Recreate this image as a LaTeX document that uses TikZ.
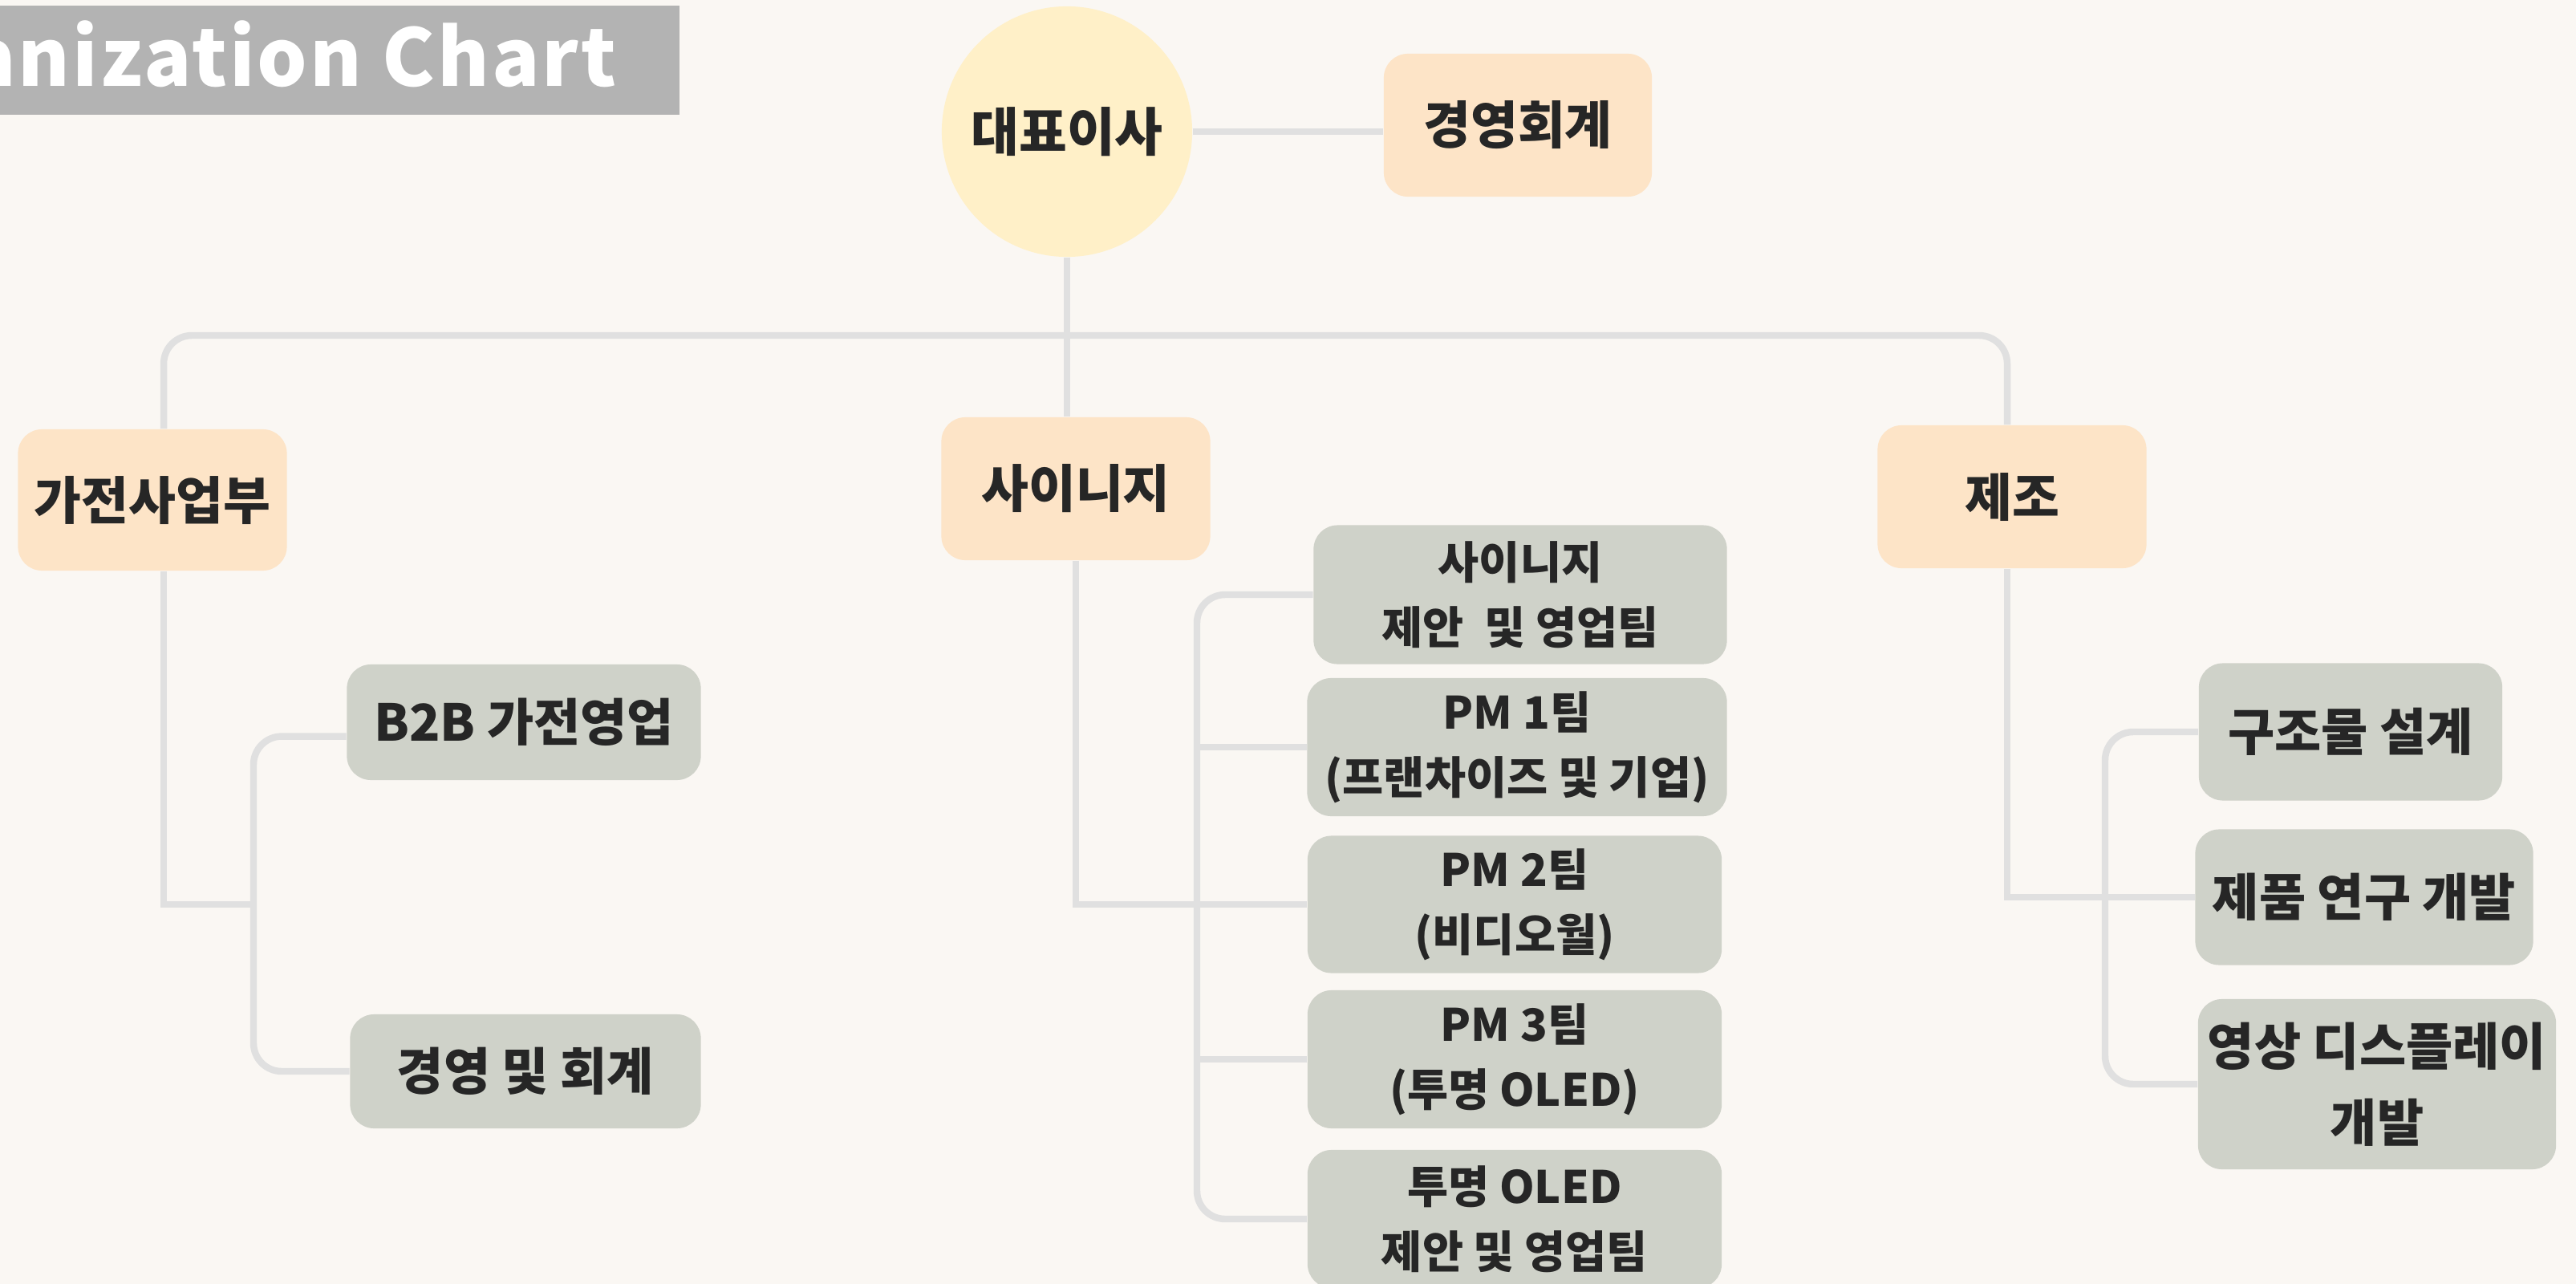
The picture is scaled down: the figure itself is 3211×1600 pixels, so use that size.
\documentclass[tikz,border=0pt]{standalone}
\usepackage{fontspec}
\setmainfont{Noto Sans CJK KR}
\newfontfamily\titlefont{Noto Sans CJK KR}[LetterSpace = 3]
\definecolor{paper}{HTML}{FAF7F3}
\definecolor{peach}{HTML}{FDE4C7}
\definecolor{cream}{HTML}{FFF0C8}
\definecolor{sage}{HTML}{CFD2C9}
\definecolor{wire}{HTML}{E0E0E0}
\definecolor{banner}{HTML}{B3B3B3}
\definecolor{ink}{HTML}{262626}
\tikzset{dept/.style = {fill = peach, rounded corners = 8.5pt, text = ink,
                        font = \fontsize{18.2}{21}\selectfont\bfseries}}
\tikzset{team/.style = {fill = sage, rounded corners = 8.5pt, text = ink, align = center,
                        font = \fontsize{18}{27}\selectfont\bfseries}}
\tikzset{small/.style = {font = \fontsize{15.8}{23}\selectfont\bfseries}}
\tikzset{link/.style = {draw = wire, line width = 2.4pt}}

\begin{document}
\begin{tikzpicture}[x = 0.01cm, y = -0.01cm]
          \useasboundingbox (0, 0) rectangle (3211, 1600);
          \fill [paper] (0, 0) rectangle (3211, 1600);
          \fill [banner] (0, 7) rectangle (847, 143);
          \begin{scope}
            \clip (0, 7) rectangle (847, 143);
            \node [anchor = base east, inner sep = 0, text = white,
                   font = \titlefont\bfseries\fontsize{28}{30}\selectfont] (title) at (769, 108) {Organization Chart};
          \end{scope}
          \node [circle, fill = cream, minimum size = 3.12cm, text = ink,
                 font = \fontsize{18.5}{21}\selectfont\bfseries] (ceo) at (1330, 164) {대표이사};
          \node [dept, minimum width = 3.34cm, minimum height = 1.78cm] (acct) at (1892, 156) {경영회계};
          \node [dept, minimum width = 3.35cm, minimum height = 1.76cm] (home) at (190, 623) {가전사업부};
          \node [dept, minimum width = 3.35cm, minimum height = 1.78cm] (signage) at (1341, 609) {사이니지};
          \node [dept, minimum width = 3.35cm, minimum height = 1.78cm] (mfg) at (2508, 619) {제조};
          \node [team, minimum width = 4.41cm, minimum height = 1.44cm] (b2b) at (653, 900) {B2B 가전영업};
          \node [team, minimum width = 4.37cm, minimum height = 1.42cm] (mgmt) at (655, 1335) {경영 및 회계};
          \node [team, small, minimum width = 5.15cm, minimum height = 1.73cm] (sig1) at (1895, 741) {사이니지\\제안~ 및 영업팀};
          \node [team, small, minimum width = 5.23cm, minimum height = 1.72cm] (pm1) at (1891, 931) {PM 1팀\\(프랜차이즈 및 기업)};
          \node [team, small, minimum width = 5.16cm, minimum height = 1.71cm] (pm2) at (1888, 1127) {PM 2팀\\(비디오월)};
          \node [team, small, minimum width = 5.16cm, minimum height = 1.72cm] (pm3) at (1888, 1320) {PM 3팀\\(투명 OLED)};
          \node [team, small, minimum width = 5.16cm, minimum height = 1.72cm] (oled) at (1888, 1519) {투명 OLED\\제안 및 영업팀};
          \node [team, minimum width = 3.78cm, minimum height = 1.71cm] (struct) at (2930, 912) {구조물 설계};
          \node [team, minimum width = 4.21cm, minimum height = 1.69cm] (rnd) at (2947, 1118) {제품 연구 개발};
          \node [team, minimum width = 4.46cm, minimum height = 2.12cm] (display) at (2963, 1351) {영상 디스플레이\\개발};
          \coordinate (bus) at (1330, 418);
          \coordinate (homespine) at (316, 1127);
          \coordinate (sigspine) at (1492, 1125);
          \coordinate (mfgspine) at (2624, 1122);
          \draw [link] (ceo.east) -- (ceo.east -| acct.west);
          \draw [link] (ceo) -- (bus);
          \draw [link, rounded corners = 10pt] ([xshift = 4pt] home.north) |- (bus) -| ([xshift = -1.7pt] mfg.north);
          \draw [link] (bus) -- (bus |- signage.north);
          \draw [link] ([xshift = 4pt] home.south) |- (homespine);
          \draw [link, rounded corners = 10pt] ([yshift = -5pt] b2b.west) -| (homespine) |- (mgmt.west);
          \draw [link, rounded corners = 10pt] (sig1.west) -| (sigspine) |- (oled.west);
          \draw [link] (pm1.west) -- (pm1.west -| sigspine);
          \draw [link] (pm3.west) -- (pm3.west -| sigspine);
          \draw [link] (signage.south) |- (pm2.west);
          \draw [link, rounded corners = 10pt] (struct.west) -| (mfgspine) |- (display.west);
          \draw [link] ([xshift = -1.7pt] mfg.south) |- (rnd.west);
        \end{tikzpicture}
\end{document}
